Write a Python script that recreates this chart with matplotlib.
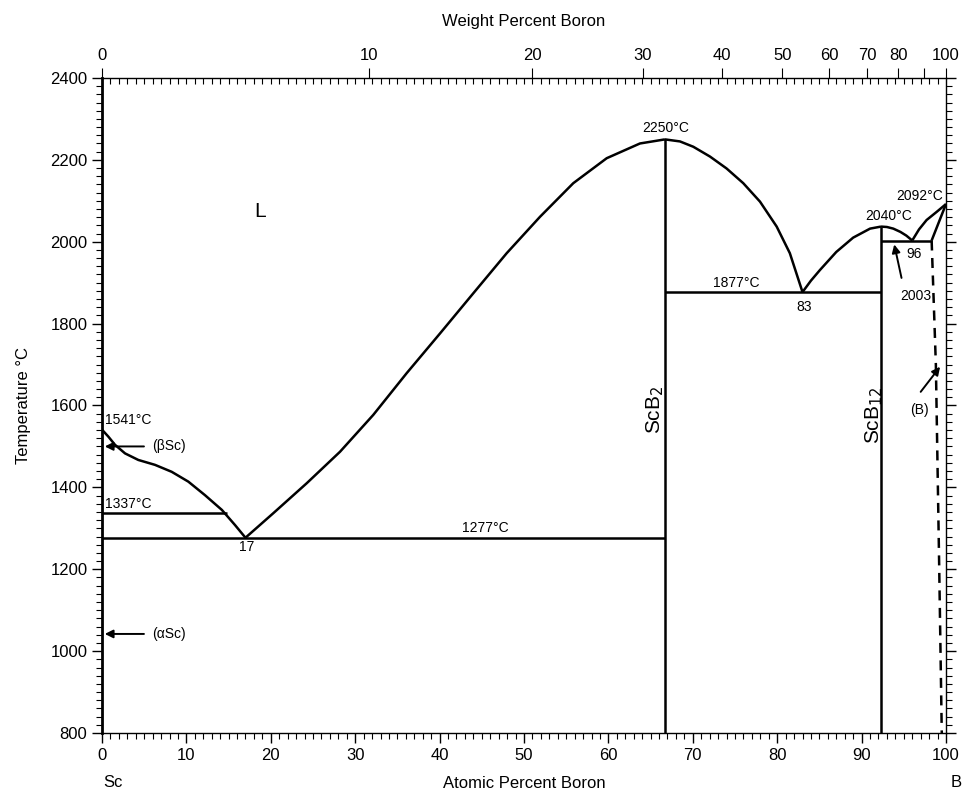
import numpy as np
from matplotlib import pyplot as plt
from matplotlib.ticker import MultipleLocator, FixedLocator

plt.rcParams['font.family'] = ['Liberation Sans', 'DejaVu Sans']

# liquidus / phase boundary curves (at.% B, temperature C)
liq_sc_x = [0, 0.75, 1.54, 2.73, 4.3, 6.28, 8.26, 10.23, 12.2, 14.2, 15.76, 17.0]
liq_sc_t = [1541, 1524, 1504, 1483, 1467, 1455, 1438, 1414, 1381, 1345, 1308, 1277]

liq_scb2_lx = [17.0, 20.3, 24.25, 28.2, 32.14, 36.1, 40.05, 43.99, 47.95,
               51.9, 55.84, 59.8, 63.74, 66.7]
liq_scb2_lt = [1277, 1337, 1410, 1487, 1577, 1679, 1776, 1874, 1972,
               2061, 2143, 2204, 2240, 2250]

liq_scb2_rx = [66.7, 68.48, 70.06, 72.04, 74.0, 75.98, 77.96, 79.94, 81.5, 83.0]
liq_scb2_rt = [2250, 2245, 2232, 2208, 2179, 2143, 2098, 2037, 1972, 1877]

liq_scb12_lx = [83.0, 84.0, 85.07, 87.0, 89.0, 91.0, 92.3]
liq_scb12_lt = [1877, 1905, 1931, 1975, 2010, 2032, 2037]

liq_scb12_rx = [92.3, 93.0, 93.76, 94.6, 95.3, 96.0]
liq_scb12_rt = [2037, 2036, 2032, 2024, 2015, 2003]

liq_b_x = [96.0, 96.8, 97.7, 98.9, 100.0]
liq_b_t = [2003, 2030, 2053, 2073, 2092]

solvus_b_x = [98.3, 100.0]
solvus_b_t = [2003, 2092]

dash_b_x = [98.3, 98.8, 99.2, 99.5]
dash_b_t = [2003, 1700, 1200, 800]

# invariant lines
eut1_x, eut1_t = [0, 66.7], [1277, 1277]
trans_x, trans_t = [0, 14.8], [1337, 1337]
eut2_x, eut2_t = [66.7, 92.3], [1877, 1877]
eut3_x, eut3_t = [92.3, 98.3], [2003, 2003]
scb2_x, scb2_t = [66.7, 66.7], [800, 2250]
scb12_x, scb12_t = [92.3, 92.3], [800, 2037]

# top axis labels (weight percent boron)
wt_ticks = [0, 10, 20, 30, 40, 50, 60, 70, 80, 90, 100]
wt_labels = ["0", "10", "20", "30", "40", "50", "60", "70", "80", "", "100"]
m_b, m_sc = 10.81, 44.956


def wt_to_at(w):
    w = np.asarray(w, dtype=float)
    nb = w / m_b
    nsc = (100 - w) / m_sc
    return 100 * nb / (nb + nsc)


fig = plt.figure(figsize=(9.65, 7.94), dpi=100)
ax = fig.add_axes([0.1057, 0.0768, 0.8746, 0.825])
lw = 1.8
k = "black"

for xs, ts in [(liq_sc_x, liq_sc_t), (liq_scb2_lx, liq_scb2_lt),
               (liq_scb2_rx, liq_scb2_rt), (liq_scb12_lx, liq_scb12_lt),
               (liq_scb12_rx, liq_scb12_rt), (liq_b_x, liq_b_t),
               (solvus_b_x, solvus_b_t), (eut1_x, eut1_t), (trans_x, trans_t),
               (eut2_x, eut2_t), (eut3_x, eut3_t), (scb2_x, scb2_t),
               (scb12_x, scb12_t)]:
    ax.plot(xs, ts, color=k, linewidth=lw, solid_capstyle="butt",
            solid_joinstyle="round")
ax.plot(dash_b_x, dash_b_t, color=k, linewidth=lw, linestyle=(0, (4, 3)))

ax.set_xlim(0, 100)
ax.set_ylim(800, 2400)

# arrows
arr = dict(arrowstyle="-|>", color=k, lw=1.4, mutation_scale=12)
ax.annotate("", xy=(0, 1500), xytext=(5.3, 1500), arrowprops=arr)
ax.annotate("", xy=(0, 1042), xytext=(5.3, 1042), arrowprops=arr)
ax.annotate("", xy=(93.8, 2000), xytext=(94.8, 1905), arrowprops=arr)
ax.annotate("", xy=(99.5, 1700), xytext=(96.8, 1628), arrowprops=arr)

# labels
fs = 10
ax.text(18.7, 2073, "L", fontsize=15, ha="center", va="center")
ax.text(66.8, 2278, "2250°C", fontsize=fs, ha="center", va="center")
ax.text(96.9, 2112, "2092°C", fontsize=fs, ha="center", va="center")
ax.text(93.2, 2063, "2040°C", fontsize=fs, ha="center", va="center")
ax.text(75.1, 1900, "1877°C", fontsize=fs, ha="center", va="center")
ax.text(83.2, 1840, "83", fontsize=fs, ha="center", va="center")
ax.text(96.4, 1867, "2003", fontsize=fs, ha="center", va="center")
ax.text(96.2, 1970, "96", fontsize=fs, ha="center", va="center")
ax.text(96.9, 1589, "(B)", fontsize=fs, ha="center", va="center")
ax.text(0.3, 1565, "1541°C", fontsize=fs, ha="left", va="center")
ax.text(5.9, 1500, "(βSc)", fontsize=fs, ha="left", va="center")
ax.text(0.3, 1359, "1337°C", fontsize=fs, ha="left", va="center")
ax.text(45.4, 1300, "1277°C", fontsize=fs, ha="center", va="center")
ax.text(17.2, 1254, "17", fontsize=fs, ha="center", va="center")
ax.text(5.9, 1042, "(αSc)", fontsize=fs, ha="left", va="center")
ax.text(65.6, 1589, "ScB$_2$", fontsize=15, rotation=90, ha="center", va="center")
ax.text(91.5, 1577, "ScB$_{12}$", fontsize=15, rotation=90, ha="center", va="center")

# axes formatting
ax.xaxis.set_major_locator(MultipleLocator(10))
ax.xaxis.set_minor_locator(MultipleLocator(1))
ax.yaxis.set_major_locator(MultipleLocator(200))
ax.yaxis.set_minor_locator(MultipleLocator(20))
ax.tick_params(axis="both", which="major", direction="out", length=7,
               width=1, labelsize=12)
ax.tick_params(axis="both", which="minor", direction="out", length=4, width=0.8)
ax.tick_params(axis="y", which="both", right=True)
ax.spines["left"].set_linewidth(2)
for s in ["right", "top", "bottom"]:
    ax.spines[s].set_linewidth(1)
ax.set_ylabel("Temperature °C", fontsize=12, labelpad=14)
ax.set_xlabel("Atomic Percent Boron", fontsize=12, labelpad=10)
xt = ax.get_xaxis_transform()
ax.text(0.1, -0.075, "Sc", transform=xt, fontsize=12, ha="left", va="center")
ax.text(100.6, -0.075, "B", transform=xt, fontsize=12, ha="left", va="center")

top = ax.twiny()
top.set_xlim(0, 100)
top.xaxis.set_major_locator(FixedLocator(wt_to_at(wt_ticks)))
top.set_xticklabels(wt_labels)
top.xaxis.set_minor_locator(MultipleLocator(1))
top.tick_params(axis="x", which="major", direction="out", length=7, labelsize=12)
top.tick_params(axis="x", which="minor", direction="in", length=4, width=0.8)
top.set_xlabel("Weight Percent Boron", fontsize=12, labelpad=16)
for s in top.spines.values():
    s.set_visible(False)

fig.savefig("out.png", dpi=100)
